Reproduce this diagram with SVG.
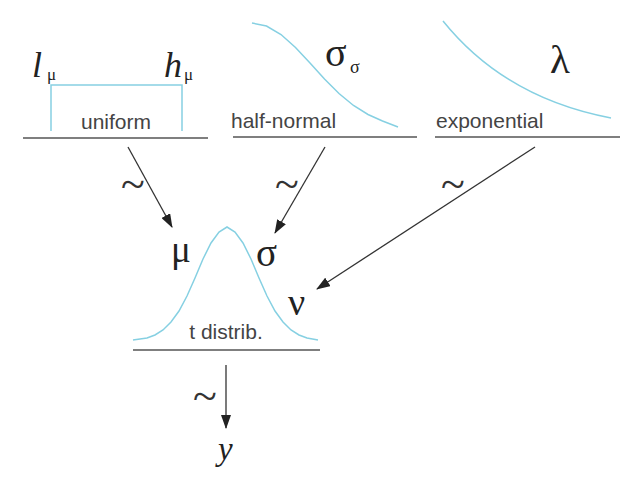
<svg xmlns="http://www.w3.org/2000/svg" width="627" height="478" viewBox="0 0 627 478">
<defs>
<style>
.base{stroke:#555;stroke-width:1.6;fill:none}
.curve{stroke:#86d0e2;stroke-width:1.5;fill:none}
.lbl{font-family:"Liberation Sans",Arial,sans-serif;font-size:21px;fill:#444}
.gr{font-family:"Liberation Serif","Times New Roman",serif;fill:#222}
.it{font-style:italic}
.edge{stroke:#333;stroke-width:1.3;fill:none;marker-end:url(#ah)}
.tl{font-family:"Liberation Serif","Times New Roman",serif;font-size:44px;fill:#333}
</style>
<marker id="ah" viewBox="0 0 14 10" refX="13" refY="5" markerWidth="14" markerHeight="10" markerUnits="userSpaceOnUse" orient="auto">
<path d="M0,0 L14,5 L0,10 Z" fill="#222"/>
</marker>
</defs>
<rect width="627" height="478" fill="#fff"/>

<g id="uniform">
<path class="curve" d="M51,131 L51,85 L182,85 L182,131"/>
<line class="base" x1="23" y1="138" x2="208" y2="138"/>
<text class="lbl" x="116" y="129" text-anchor="middle">uniform</text>
<text class="gr it" x="32" y="77" font-size="36">l</text>
<text class="gr" x="47" y="80" font-size="17">μ</text>
<text class="gr it" x="164" y="77" font-size="36">h</text>
<text class="gr" x="184" y="80" font-size="17">μ</text>
</g>

<g id="half-normal">
<path class="curve" d="M252,23 L266.5,26 L281,34.5 L295.5,47.5 L310,63 L324.5,79 L339,93.5 L353.5,105.5 L368,114.5 L382.5,121 L398,127"/>
<line class="base" x1="233" y1="137" x2="417" y2="137"/>
<text class="lbl" x="231" y="128">half-normal</text>
<text class="gr" x="325" y="66" font-size="40">σ</text>
<text class="gr" x="350" y="73" font-size="18">σ</text>
</g>

<g id="exponential">
<path class="curve" d="M443,21 Q505,98 611,118"/>
<line class="base" x1="435" y1="137" x2="620" y2="137"/>
<text class="lbl" x="436" y="128">exponential</text>
<text class="gr" x="550" y="73" font-size="41">λ</text>
</g>

<g id="t-distrib">
<path class="curve" d="M133,340 L147,338 L155,335 L163,330 L171,322 L179,311 L187,296 L195,278 L203,259 L211,243 L219,232 L227,227 L235,232 L243,243 L251,259 L259,278 L267,296 L275,311 L283,322 L291,330 L299,335 L307,338 L318,340"/>
<line class="base" x1="133" y1="350" x2="320" y2="350"/>
<text class="lbl" x="226" y="339" text-anchor="middle">t distrib.</text>
<text class="gr" x="171" y="262" font-size="37">μ</text>
<text class="gr" x="256" y="266" font-size="39">σ</text>
<text class="gr" x="288" y="315" font-size="38">ν</text>
</g>

<g id="y">
<text class="gr it" x="218" y="460" font-size="33">y</text>
</g>

<g id="connectors">
<line class="edge" x1="128" y1="147" x2="172" y2="227"/>
<line class="edge" x1="325" y1="147" x2="275" y2="233"/>
<line class="edge" x1="535" y1="147" x2="317" y2="289"/>
<line class="edge" x1="226" y1="365" x2="226" y2="428"/>
<text class="tl" x="121" y="199">~</text>
<text class="tl" x="275" y="199">~</text>
<text class="tl" x="441" y="199">~</text>
<text class="tl" x="193" y="411">~</text>
</g>
</svg>
